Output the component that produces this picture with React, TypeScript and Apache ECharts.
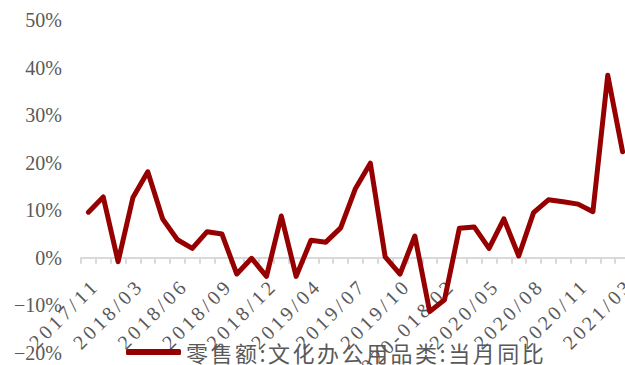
import React, { useEffect, useRef } from "react";
import * as echarts from "echarts";

// Monthly retail sales, cultural & office supplies, year-on-year growth (%)
const months: string[] = [
  "2017/11", "2017/12", "2018-01&02", "2018/03", "2018/04", "2018/05", "2018/06",
  "2018/07", "2018/08", "2018/09", "2018/10", "2018/11", "2018/12", "2019-01&02",
  "2019/03", "2019/04", "2019/05", "2019/06", "2019/07", "2019/08", "2019/09",
  "2019/10", "2019/11", "2019/12", "2020-01&02", "2020/03", "2020/04", "2020/05",
  "2020/06", "2020/07", "2020/08", "2020/09", "2020/10", "2020/11", "2020/12",
  "2021-01&02", "2021/03",
];

const yoyGrowth: number[] = [
  9.6, 12.8, -0.8, 12.7, 18.1, 8.2, 3.8,
  2.0, 5.5, 5.0, -3.4, -0.1, -3.9, 8.8,
  -3.9, 3.7, 3.3, 6.3, 14.6, 19.9, 0.2,
  -3.4, 4.6, -11.3, -8.8, 6.2, 6.5, 2.0,
  8.2, 0.4, 9.5, 12.2, 11.8, 11.3, 9.7,
  38.4, 22.3,
];

const seriesName = "零售额:文化办公用品类:当月同比";

const yMin = -20;
const yMax = 50;
const yStep = 10;

const serif = "'Liberation Serif', 'Times New Roman', serif";
const textGray = "#595959";
const lineRed = "#960000";

const gridTop = 20;
const gridHeight = 333;
// lift the category axis from the grid bottom up to the 0% level
const zeroOffset = -(gridHeight * (0 - yMin)) / (yMax - yMin);

export default function App() {
  const ref = useRef<HTMLDivElement>(null);

  useEffect(() => {
    const el = ref.current;
    if (!el) return;
    const chart = echarts.init(el, null, { renderer: "svg" });

    // widen the tracking of the month labels and the legend text
    const spaceOut = () => {
      el.querySelectorAll("text").forEach((t) => {
        const s = t.textContent || "";
        if (months.includes(s)) t.setAttribute("letter-spacing", "3.5");
        else if (s === seriesName) t.setAttribute("letter-spacing", "2.5");
      });
    };
    chart.on("finished", spaceOut);

    chart.setOption({
      animation: false,
      backgroundColor: "#ffffff",
      grid: {
        left: 81,
        top: gridTop,
        width: 549,
        height: gridHeight,
        containLabel: false,
        outerBoundsMode: "none",
      },
      legend: {
        show: true,
        left: 126,
        top: 340,
        icon: "roundRect",
        itemWidth: 55,
        itemHeight: 6,
        padding: 0,
        textStyle: {
          fontFamily: "'Noto Sans CJK SC', sans-serif",
          fontSize: 22,
          lineHeight: 24,
          color: textGray,
        },
        data: [seriesName],
      },
      xAxis: {
        type: "category",
        data: months,
        boundaryGap: true,
        position: "bottom",
        offset: zeroOffset,
        axisLine: { onZero: false, lineStyle: { color: "#d9d9d9", width: 2 } },
        axisTick: {
          show: true,
          interval: 0,
          length: 6,
          lineStyle: { color: "#d9d9d9", width: 2 },
        },
        axisLabel: {
          interval: 2,
          rotate: 45,
          margin: 17,
          align: "right",
          verticalAlign: "top",
          fontFamily: serif,
          fontSize: 20,
          color: textGray,
          hideOverlap: false,
        },
        splitLine: { show: false },
      },
      yAxis: {
        type: "value",
        min: yMin,
        max: yMax,
        interval: yStep,
        axisLine: { show: false },
        axisTick: { show: false },
        splitLine: { show: false },
        axisLabel: {
          margin: 19,
          fontFamily: serif,
          fontSize: 20,
          color: textGray,
          formatter: (v: number) => (v < 0 ? "\u2212" + Math.abs(v) + "%" : v + "%"),
        },
      },
      series: [
        {
          name: seriesName,
          type: "line",
          data: yoyGrowth,
          showSymbol: false,
          symbol: "none",
          itemStyle: { color: lineRed },
          lineStyle: { color: lineRed, width: 5, join: "round", cap: "round" },
        },
      ],
    });
    spaceOut();
    const timer = window.setTimeout(spaceOut, 50);

    return () => {
      window.clearTimeout(timer);
      chart.dispose();
    };
  }, []);

  return (
    <div
      ref={ref}
      style={{ position: "fixed", left: 0, top: 0, width: 625, height: 365 }}
    />
  );
}
